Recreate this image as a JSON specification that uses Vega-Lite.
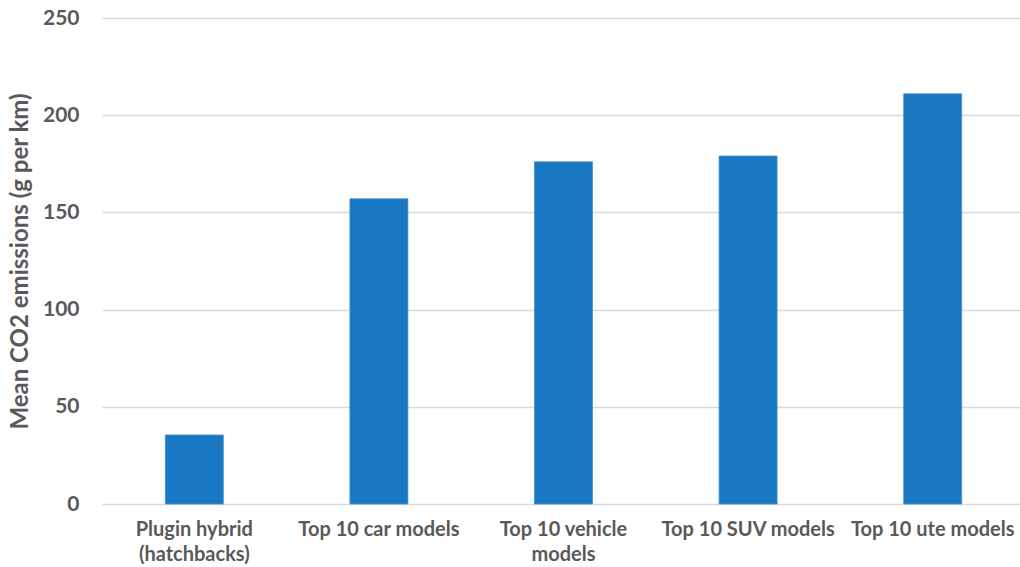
{
  "$schema": "https://vega.github.io/schema/vega-lite/v6.json",
  "autosize": "none",
  "width": 918,
  "height": 486,
  "padding": {"left": 102, "top": 18, "right": 0, "bottom": 63},
  "background": "white",
  "config": {
    "view": {"stroke": null},
    "font": "Lato"
  },
  "data": {
    "values": [
      {"category": "Plugin hybrid|(hatchbacks)", "value": 35.5},
      {"category": "Top 10 car models", "value": 157},
      {"category": "Top 10 vehicle|models", "value": 176},
      {"category": "Top 10 SUV models", "value": 179},
      {"category": "Top 10 ute models", "value": 211}
    ]
  },
  "mark": {"type": "bar", "color": "#1a77c1", "stroke": "#3d8fd0", "strokeWidth": 0.8},
  "encoding": {
    "x": {
      "field": "category",
      "type": "nominal",
      "sort": null,
      "scale": {"paddingInner": 0.686, "paddingOuter": 0.343, "range": [0, 923]},
      "axis": {
        "title": null,
        "labelAngle": 0,
        "labelExpr": "split(datum.label, '|')",
        "labelFont": "Lato",
        "labelFontSize": 20,
        "labelFontWeight": "bold",
        "labelColor": "#595959",
        "labelLineHeight": 25,
        "labelPadding": 15,
        "domain": false,
        "ticks": false
      }
    },
    "y": {
      "field": "value",
      "type": "quantitative",
      "scale": {"domain": [0, 250]},
      "axis": {
        "values": [0, 50, 100, 150, 200, 250],
        "title": "Mean CO2 emissions (g per km)",
        "titleFont": "Lato",
        "titleFontSize": 24,
        "titleFontWeight": "bold",
        "titleColor": "#595959",
        "titlePadding": 10,
        "labelFont": "Lato",
        "labelFontSize": 21,
        "labelFontWeight": "bold",
        "labelColor": "#595959",
        "labelPadding": 23,
        "domain": false,
        "ticks": false,
        "gridColor": "#d9d9d9",
        "gridWidth": 1.5
      }
    }
  }
}
